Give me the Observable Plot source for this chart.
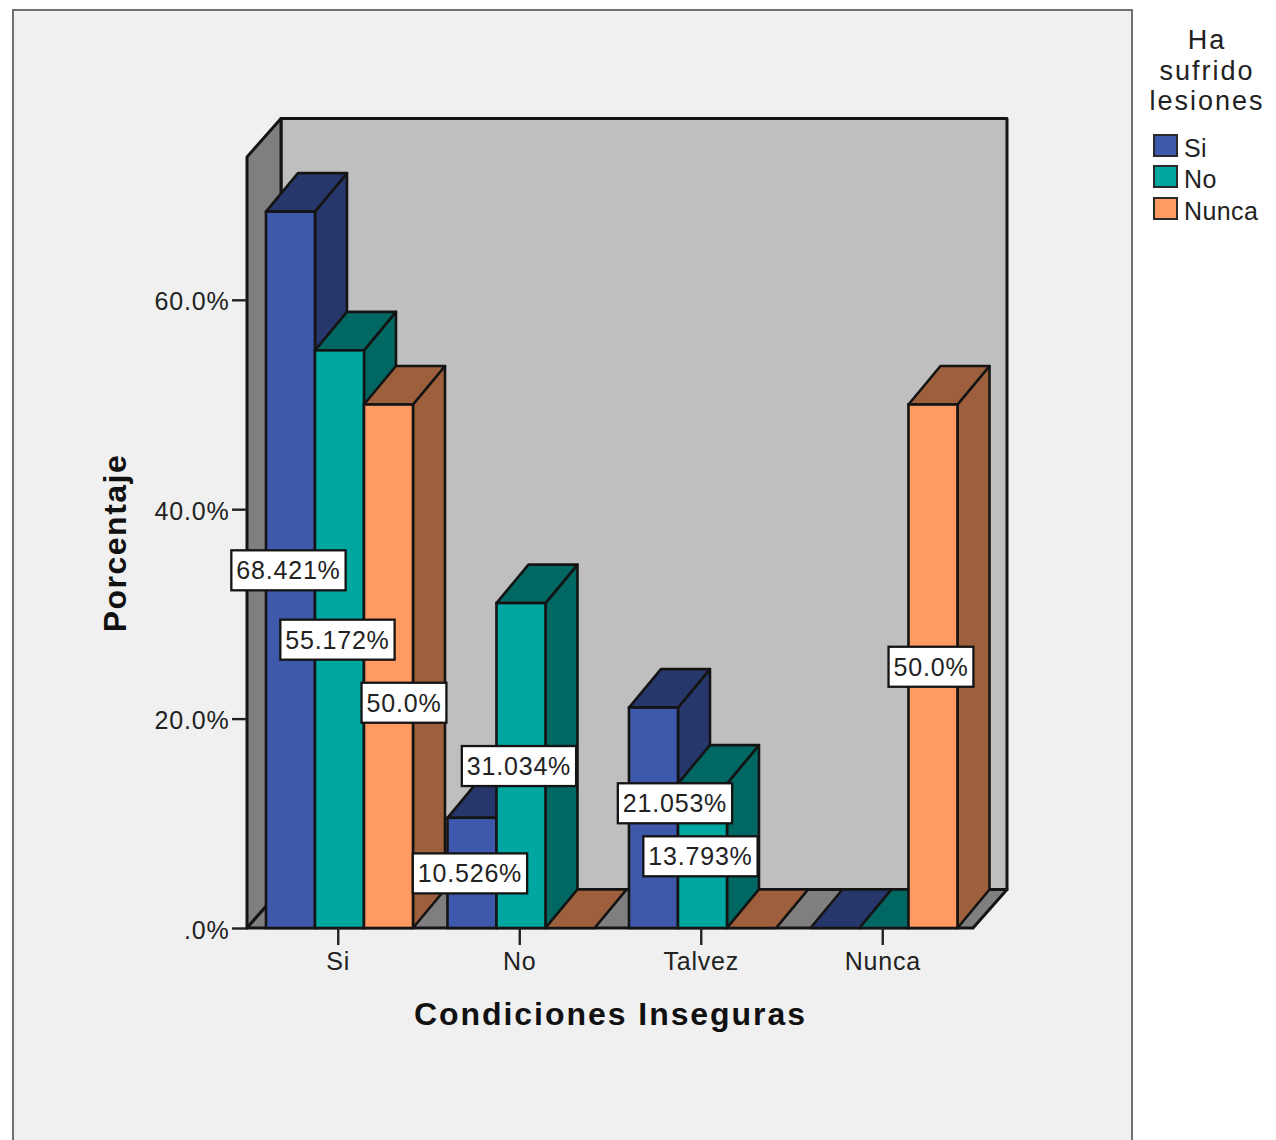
<!DOCTYPE html>
<html lang="es">
<head>
<meta charset="utf-8">
<script src="https://cdn.jsdelivr.net/npm/d3@7"></script>
<script src="https://cdn.jsdelivr.net/npm/@observablehq/plot@0.6"></script>
<style>
  html, body { margin: 0; padding: 0; width: 1276px; height: 1140px; overflow: hidden; background: #fff; }
  #panel { position: absolute; left: 12px; top: 9px; width: 1121px; height: 1200px; background: #f0f0f0; border: 2.5px solid #707070; box-sizing: border-box; }
  #chart { position: absolute; left: 0; top: 0; }
  #chart text { letter-spacing: 0.8px; }
  #chart .x-title text { letter-spacing: 1.95px; }
  #chart .y-title text { letter-spacing: 1.5px; }
  #legend { position: absolute; left: 1140px; top: 25px; width: 134px; font: 25px "Liberation Sans", sans-serif; color: #222; }
  #legend .title { font-size: 27px; text-align: center; line-height: 30.5px; letter-spacing: 2px; margin-bottom: 16px; margin-left: 0; white-space: nowrap; }
  #legend .row { position: relative; height: 31.5px; line-height: 31.5px; padding-left: 44px; letter-spacing: 0.4px; }
  #legend .swatch { position: absolute; left: 13px; top: 1px; width: 25px; height: 23px; border: 2px solid #2a2a2a; box-sizing: border-box; }
</style>
</head>
<body>
<div id="panel"></div>
<div id="chart"></div>
<div id="legend"></div>
<script>
// Condiciones inseguras por haber sufrido lesiones (% dentro de cada grupo)
const groups = ["Si", "No", "Talvez", "Nunca"];
const seriesNames = ["Si", "No", "Nunca"];
const seriesColors = ["#3e58ac", "#00a6a0", "#ff9a62"];
const valuesSi = [68.421, 10.526, 21.053, 0];
const valuesNo = [55.172, 31.034, 13.793, 0];
const valuesNunca = [50, 0, 0, 50];
const yTicks = [0, 20, 40, 60];
const yTickLabels = [".0%", "20.0%", "40.0%", "60.0%"];
const legendTitle = ["Ha", "sufrido", "lesiones"];

const rows = [valuesSi, valuesNo, valuesNunca].flatMap((vals, s) =>
  vals.map((value, g) => ({group: groups[g], series: seriesNames[s], value}))
);

// Extrusion of the pseudo-3D box and bars, in screen pixels
const boxDepthX = 34, barDepthX = 32, depthY = 38.5;
const ink = "#141414";
const labelFont = '25px "Liberation Sans", sans-serif';
const labelSpacing = 0.8;

const svgNS = "http://www.w3.org/2000/svg";
function polygon(points, fill, width = 2.6) {
  const p = document.createElementNS(svgNS, "polygon");
  p.setAttribute("points", points.map((d) => d.join(",")).join(" "));
  p.setAttribute("fill", fill);
  p.setAttribute("stroke", ink);
  p.setAttribute("stroke-width", width);
  p.setAttribute("stroke-linejoin", "round");
  return p;
}

// Back wall, left wall and floor of the box, spanning the whole frame
function drawBox(index, scales, values, dim) {
  const g = document.createElementNS(svgNS, "g");
  const l = dim.marginLeft, r = dim.width - dim.marginRight;
  const t = dim.marginTop, b = dim.height - dim.marginBottom;
  const d = boxDepthX;
  g.append(
    polygon([[l + d, t - depthY], [r + d, t - depthY], [r + d, b - depthY], [l + d, b - depthY]], "#bfbfbf", 3),
    polygon([[l, t], [l + d, t - depthY], [l + d, b - depthY], [l, b]], "#7f7f7f", 3),
    polygon([[l, b], [l + d, b - depthY], [r + d, b - depthY], [r, b]], "#7f7f7f", 3)
  );
  return g;
}

// Front face comes from the bar mark; side and top faces are added behind it
function extrudeBars(index, scales, values, dim, context, next) {
  const g = next(index, scales, values, dim, context);
  const w = scales.x.bandwidth();
  const d = barDepthX;
  const faces = document.createElementNS(svgNS, "g");
  for (const i of index) {
    const x0 = values.x[i], x1 = x0 + w;
    const top = Math.min(values.y1[i], values.y2[i]);
    const base = Math.max(values.y1[i], values.y2[i]);
    const c = d3.rgb(values.fill[i]);
    const dark = d3.rgb(c.r * 0.62, c.g * 0.62, c.b * 0.62).formatHex();
    faces.append(
      polygon([[x1, base], [x1 + d, base - depthY], [x1 + d, top - depthY], [x1, top]], dark),
      polygon([[x0, top], [x0 + d, top - depthY], [x1 + d, top - depthY], [x1, top]], dark)
    );
  }
  g.insertBefore(faces, g.firstChild);
  return g;
}

// White boxed value labels: the box is sized from the measured text
const measure = document.createElement("canvas").getContext("2d");
measure.font = labelFont;
function boxedLabels(index, scales, values, dim, context, next) {
  const g = next(index, scales, values, dim, context);
  const boxes = document.createElementNS(svgNS, "g");
  for (const i of index) {
    const text = values.text[i];
    const w = measure.measureText(text).width + text.length * labelSpacing + 10;
    const h = 40;
    const r = document.createElementNS(svgNS, "rect");
    r.setAttribute("x", values.x[i] - w / 2);
    r.setAttribute("y", values.y[i] - h / 2 - 1);
    r.setAttribute("width", w);
    r.setAttribute("height", h);
    r.setAttribute("fill", "#fff");
    r.setAttribute("stroke", ink);
    r.setAttribute("stroke-width", 2.3);
    boxes.append(r);
  }
  g.insertBefore(boxes, g.firstChild);
  return g;
}

const valueLabel = (d) => (Number.isInteger(d.value) ? d.value.toFixed(1) : d.value.toFixed(3)) + "%";
const labelled = rows.filter((d) => d.value > 0);
const isSiNunca = (d) => d.group === "Si" && d.series === "Nunca";
const isTalvezSi = (d) => d.group === "Talvez" && d.series === "Si";

function labelMark(data, offsets) {
  return Plot.text(data, {
    fx: "group", x: "series", y: (d) => d.value / 2, text: valueLabel,
    fontSize: 25, fill: "#222", render: boxedLabels, ...offsets
  });
}

const plot = Plot.plot({
  width: 1276,
  height: 1140,
  marginTop: 157,
  marginBottom: 212,
  marginLeft: 247,
  marginRight: 303,
  style: {background: "transparent", fontFamily: '"Liberation Sans", sans-serif'},
  fx: {domain: groups, padding: 0, round: false, label: null},
  x: {domain: seriesNames, paddingInner: 0, paddingOuter: 0.352, align: 0.55, round: false, axis: null, label: null},
  y: {domain: [0, 73.64], label: null},
  color: {domain: seriesNames, range: seriesColors},
  marks: [
    Plot.frame({facet: "super", stroke: "none", render: drawBox}),
    Plot.barY(rows, {
      fx: "group", x: "series", y: "value", fill: "series",
      stroke: ink, strokeWidth: 2.6, render: extrudeBars
    }),
    Plot.axisFx({
      anchor: "bottom", tickSize: 17, tickPadding: 7, fontSize: 25, label: null,
      color: "#222", strokeWidth: 2.4
    }),
    // Tick rules and tick labels are separate so the labels can sit slightly lower
    Plot.axisY({ticks: yTicks, tickSize: 15, text: null, label: null, color: "#222", strokeWidth: 2.4}),
    Plot.axisY({
      ticks: yTicks, tickFormat: (d) => yTickLabels[yTicks.indexOf(d)],
      tickSize: 0, tickPadding: 18, dy: 2, fontSize: 25, label: null, color: "#222"
    }),
    labelMark(labelled.filter((d) => !isSiNunca(d) && !isTalvezSi(d)), {dx: -2.5, dy: 1}),
    labelMark(labelled.filter(isSiNunca), {dx: 15, dy: 37}),
    labelMark(labelled.filter(isTalvezSi), {dx: 21, dy: -14}),
    Plot.text(["Condiciones Inseguras"], {
      facet: "super", frameAnchor: "bottom", dy: 96,
      fontSize: 32, fontWeight: "bold", fill: "#111", className: "x-title"
    }),
    Plot.text(["Porcentaje"], {
      facet: "super", frameAnchor: "left", dx: -132, rotate: -90, textAnchor: "middle",
      fontSize: 32, fontWeight: "bold", fill: "#111", className: "y-title"
    })
  ]
});
document.getElementById("chart").append(plot);

// Legend built from the same colour scale as the bars
const legend = d3.select("#legend");
legend.append("div").attr("class", "title").html(legendTitle.join("<br>"));
const colorScale = plot.scale("color");
for (const name of seriesNames) {
  const row = legend.append("div").attr("class", "row");
  row.append("span").attr("class", "swatch").style("background", colorScale.apply(name));
  row.append("span").text(name);
}
</script>
</body>
</html>
